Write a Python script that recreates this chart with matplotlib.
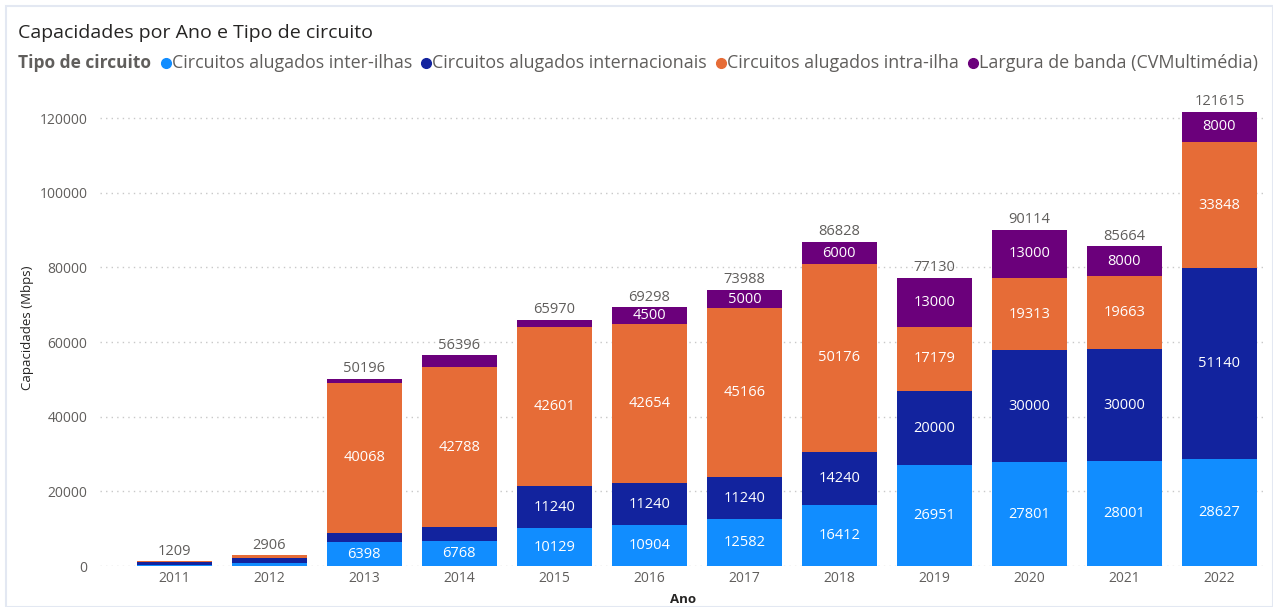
import numpy as np
import matplotlib
matplotlib.use('Agg')
import matplotlib.pyplot as plt
from matplotlib.patches import Rectangle

plt.rcParams['font.family'] = ['Open Sans', 'DejaVu Sans']

# Data
anos = ['2011', '2012', '2013', '2014', '2015', '2016', '2017', '2018', '2019', '2020', '2021', '2022']
inter_ilhas = [150, 806, 6398, 6768, 10129, 10904, 12582, 16412, 26951, 27801, 28001, 28627]
internacionais = [800, 1300, 2500, 3640, 11240, 11240, 11240, 14240, 20000, 30000, 30000, 51140]
intra_ilha = [259, 800, 40068, 42788, 42601, 42654, 45166, 50176, 17179, 19313, 19663, 33848]
largura_banda = [0, 0, 1230, 3200, 2000, 4500, 5000, 6000, 13000, 13000, 8000, 8000]

series = [
    ('Circuitos alugados inter-ilhas', inter_ilhas, '#118DFF'),
    ('Circuitos alugados internacionais', internacionais, '#12239E'),
    ('Circuitos alugados intra-ilha', intra_ilha, '#E66C37'),
    ('Largura de banda (CVMultimédia)', largura_banda, '#6B007B'),
]

W, H = 1273, 607
fig = plt.figure(figsize=(W / 100, H / 100), dpi=100)
ax = fig.add_axes([100 / W, 1 - 566 / H, 1167 / W, 476 / H])

x = np.arange(len(anos))
bottom = np.zeros(len(anos))
for name, vals, color in series:
    vals = np.array(vals, dtype=float)
    ax.bar(x, vals, width=0.79, bottom=bottom, color=color, label=name, zorder=2)
    for xi, b, v in zip(x, bottom, vals):
        if v >= 4000:
            ax.text(xi, b + v / 2, f'{int(v)}', ha='center', va='center',
                    color='white', fontsize=10.5, zorder=3)
    bottom += vals

for xi, tot in zip(x, bottom):
    ax.text(xi, tot + 700, f'{int(tot)}', ha='center', va='bottom',
            color='#605E5C', fontsize=10.5)

ax.set_xlim(-0.78, len(anos) - 0.5)
ax.set_ylim(0, 127500)
ax.set_yticks(np.arange(0, 120001, 20000))
ax.set_xticks(x)
ax.set_xticklabels(anos)
ax.tick_params(axis='both', length=0, colors='#605E5C', labelsize=10)
ax.tick_params(axis='y', pad=9)
ax.grid(axis='y', color='#C8C8C8', linestyle=(0, (1, 3)), linewidth=1, zorder=0)
for s in ax.spines.values():
    s.set_visible(False)

ax.set_ylabel('Capacidades (Mbps)', fontsize=9.5, color='#252423', labelpad=4)
ax.set_xlabel('Ano', fontsize=9.5, color='#252423', fontweight='bold', labelpad=5)

# Frame
fig.patches.append(Rectangle((6 / W, 0), 1 - 6 / W, 1 - 6 / H, transform=fig.transFigure,
                             fill=False, edgecolor='#E3E8F2', linewidth=1.5))

# Title
fig.text(18 / W, 1 - 33 / H, 'Capacidades por Ano e Tipo de circuito', fontsize=14,
         color='#252423', va='center', ha='left')

# Legend built manually
fig.canvas.draw()
renderer = fig.canvas.get_renderer()
ly = 1 - 63 / H
t = fig.text(18 / W, ly, 'Tipo de circuito', fontsize=12.5, fontweight='bold',
             color='#605E5C', va='center', ha='left')
xpos = t.get_window_extent(renderer).x1 + 11
for name, vals, color in series:
    fig.lines.append(plt.Line2D([(xpos + 4) / W], [ly], marker='o', markersize=7,
                                color=color, transform=fig.transFigure, linestyle='none'))
    tt = fig.text((xpos + 10) / W, ly, name, fontsize=12.9, color='#605E5C',
                  va='center', ha='left')
    xpos = tt.get_window_extent(renderer).x1 + 10

fig.savefig('out.png', dpi=100)
